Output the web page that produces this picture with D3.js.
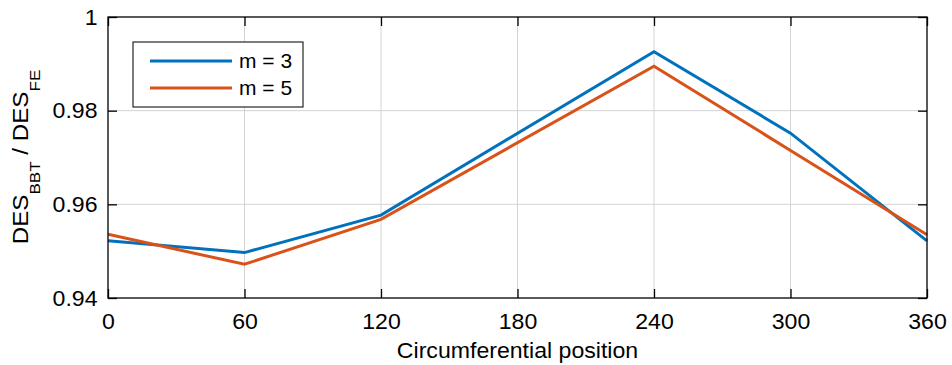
<!DOCTYPE html>
<html>
<head>
<meta charset="utf-8">
<script src="https://cdn.jsdelivr.net/npm/d3@7/dist/d3.min.js"></script>
<style>
  body { margin: 0; background: #fff; }
  svg { font-family: "Liberation Sans", Arial, sans-serif; }
</style>
</head>
<body>
<div id="chart"></div>
<script>
// circumferential positions (deg)
var positions = [0, 60, 120, 180, 240, 300, 360];
// DES_BBT / DES_FE ratio (180 lies on the straight segment, omitted)
var posM3 = [0, 60, 120, 240, 300, 360];
var valM3 = [0.9522, 0.9497, 0.9577, 0.9926, 0.9752, 0.9522];
var posM5 = [0, 60, 120, 240, 300, 360];
var valM5 = [0.9536, 0.9472, 0.9568, 0.9895, 0.9715, 0.9535];
var seriesNames = ["m = 3", "m = 5"];
var seriesColors = ["#0072BD", "#D95319"];
var yTicks = [0.94, 0.96, 0.98, 1];

var W = 952, H = 365;
var margin = {top: 17, right: 25, bottom: 67, left: 108},
    width = W - margin.left - margin.right,
    height = H - margin.top - margin.bottom;
var stretch = "scale(1.05,1)";   // text in the figure is slightly wider than Arial

var svg = d3.select("#chart").append("svg")
    .attr("width", W).attr("height", H);
var g = svg.append("g")
    .attr("transform", "translate(" + margin.left + "," + margin.top + ")");

var x = d3.scaleLinear().domain([0, 360]).range([0, width]);
var y = d3.scaleLinear().domain([0.94, 1]).range([height, 0]);

// grid
g.append("g").selectAll("line")
  .data(positions.slice(1, -1)).enter().append("line")
    .attr("x1", d => x(d)).attr("x2", d => x(d))
    .attr("y1", 0).attr("y2", height)
    .attr("stroke", "#d4d4d4").attr("stroke-width", 1);
g.append("g").selectAll("line")
  .data(yTicks.slice(1, -1)).enter().append("line")
    .attr("y1", d => y(d)).attr("y2", d => y(d))
    .attr("x1", 0).attr("x2", width)
    .attr("stroke", "#d4d4d4").attr("stroke-width", 1);

// series
var line = d3.line().x(d => x(d[0])).y(d => y(d[1]));
var data = [d3.zip(posM3, valM3), d3.zip(posM5, valM5)];
g.selectAll("path.series").data(data).enter().append("path")
    .attr("class", "series")
    .attr("fill", "none")
    .attr("stroke", (d, i) => seriesColors[i])
    .attr("stroke-width", 3)
    .attr("d", line);

// axes (inward ticks, boxed)
var tickLen = 9;
function styleAxis(sel) {
  sel.select(".domain").remove();
  sel.selectAll(".tick line").attr("stroke", "#000").attr("stroke-width", 1.3);
  sel.selectAll(".tick text").attr("fill", "#000").style("font-size", "22px")
     .attr("transform", stretch);
}
g.append("g").attr("transform", "translate(0," + height + ")")
  .call(d3.axisBottom(x).tickValues(positions).tickSizeInner(-tickLen).tickSizeOuter(0).tickPadding(15))
  .call(styleAxis);
g.append("g")
  .call(d3.axisTop(x).tickValues(positions).tickSizeInner(-tickLen).tickSizeOuter(0).tickFormat(""))
  .call(styleAxis);
g.append("g")
  .call(d3.axisLeft(y).tickValues(yTicks).tickSizeInner(-tickLen).tickSizeOuter(0).tickPadding(10)
        .tickFormat(d => d === 1 ? "1" : d3.format(".2f")(d)))
  .call(styleAxis);
g.append("g").attr("transform", "translate(" + width + ",0)")
  .call(d3.axisRight(y).tickValues(yTicks).tickSizeInner(-tickLen).tickSizeOuter(0).tickFormat(""))
  .call(styleAxis);

g.append("rect")
  .attr("width", width).attr("height", height)
  .attr("fill", "none").attr("stroke", "#000").attr("stroke-width", 1.3);

// axis titles
svg.append("g").attr("transform", "translate(" + (margin.left + width / 2) + ",358)")
  .append("text")
  .attr("transform", stretch)
  .attr("text-anchor", "middle").style("font-size", "22px")
  .text("Circumferential position");

var yl = svg.append("g")
  .attr("transform", "translate(28,157) rotate(-90)")
  .append("text")
  .attr("transform", "scale(1.1,1)")
  .attr("text-anchor", "middle").style("font-size", "22px");
yl.append("tspan").text("DES");
yl.append("tspan").attr("dy", 12).style("font-size", "15.5px").text("BBT");
yl.append("tspan").attr("dy", -12).text(" / DES");
yl.append("tspan").attr("dy", 12).style("font-size", "15.5px").text("FE");

// legend
var lg = g.append("g").attr("transform", "translate(25,25)");
lg.append("rect")
  .attr("width", 170).attr("height", 65)
  .attr("fill", "#fff").attr("stroke", "#262626").attr("stroke-width", 1.2);
seriesNames.forEach(function (name, i) {
  var yy = 19 + i * 27;
  lg.append("line")
    .attr("x1", 17).attr("x2", 99).attr("y1", yy).attr("y2", yy)
    .attr("stroke", seriesColors[i]).attr("stroke-width", 3);
  lg.append("g").attr("transform", "translate(106," + (yy + 7) + ")")
    .append("text")
    .attr("transform", stretch)
    .style("font-size", "20px").text(name);
});
</script>
</body>
</html>
